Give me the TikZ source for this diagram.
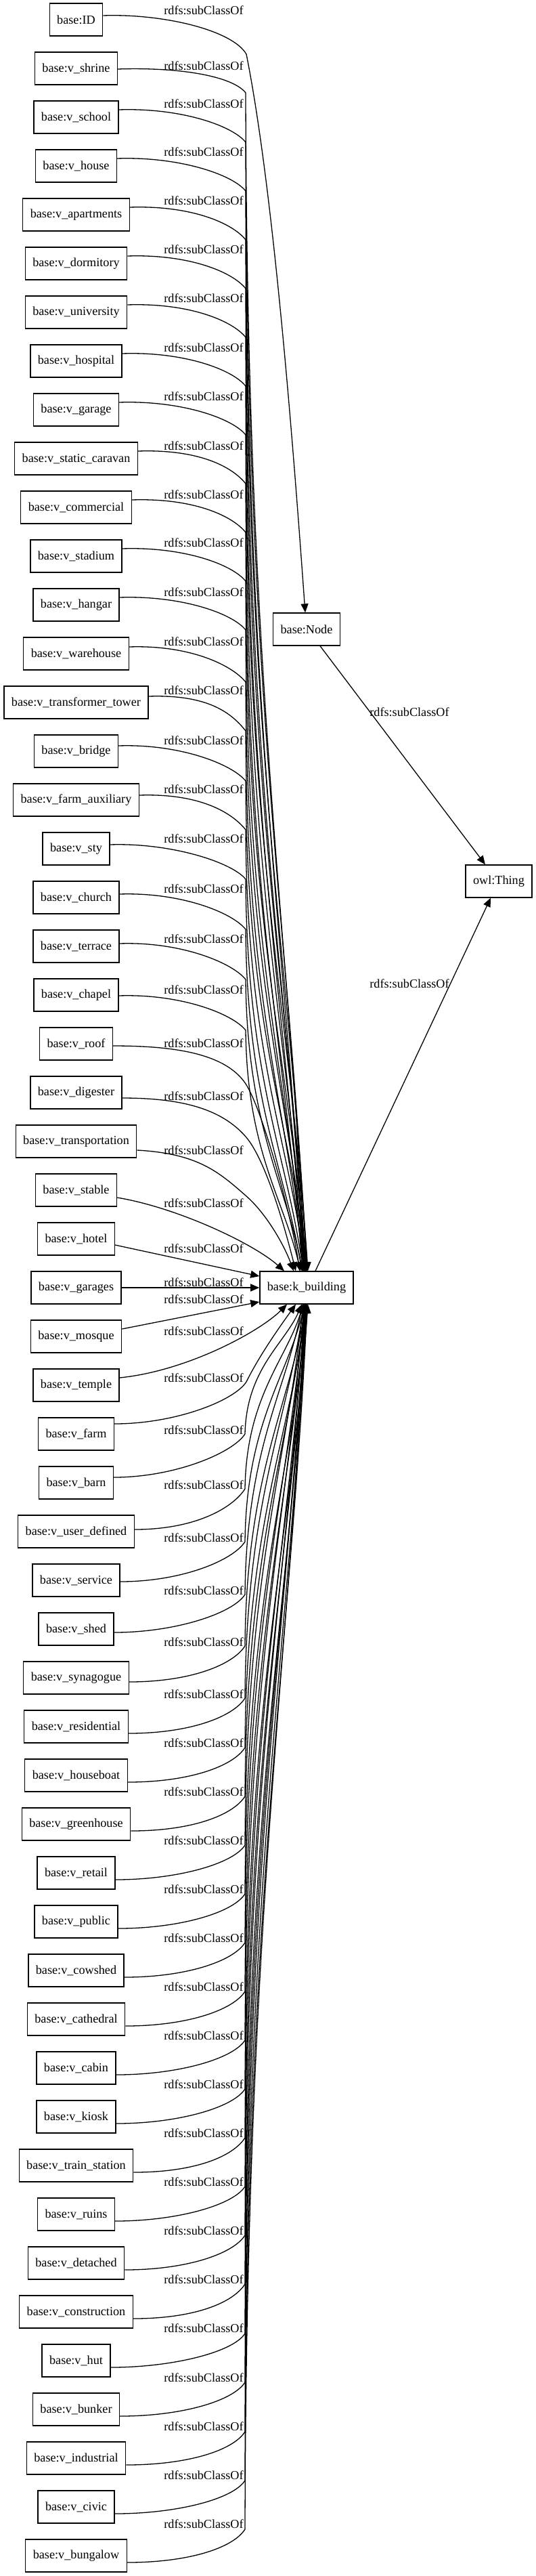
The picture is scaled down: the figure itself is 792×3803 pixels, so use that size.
\documentclass[tikz,border=0pt]{standalone}
\usepackage{fontspec}
\setmainfont{Liberation Serif}
\usetikzlibrary{arrows.meta,calc}
\newcommand{\gvf}{\fontsize{18.2pt}{21pt}\selectfont}
\begin{document}
\begin{tikzpicture}[x=1pt,y=-1pt,
  gvbox/.style={draw,line width=1.3pt,rectangle,minimum width=72pt,minimum height=48pt,inner xsep=11pt,inner ysep=0pt,font=\gvf},
  gvlab/.style={font=\gvf,inner sep=0pt},
  gvedge/.style={line width=1.3pt,-{Triangle[length=13pt,width=11pt]}}]
\fill[white] (0,0) rectangle (792,3803);
\useasboundingbox (0,0) rectangle (792,3803);
% left column
\foreach \i/\nm in {0/ID,1/v\_shrine,2/v\_school,3/v\_house,4/v\_apartments,5/v\_dormitory,6/v\_university,7/v\_hospital,8/v\_garage,9/v\_static\_caravan,10/v\_commercial,11/v\_stadium,12/v\_hangar,13/v\_warehouse,14/v\_transformer\_tower,15/v\_bridge,16/v\_farm\_auxiliary,17/v\_sty,18/v\_church,19/v\_terrace,20/v\_chapel,21/v\_roof,22/v\_digester,23/v\_transportation,24/v\_stable,25/v\_hotel,26/v\_garages,27/v\_mosque,28/v\_temple,29/v\_farm,30/v\_barn,31/v\_user\_defined,32/v\_service,33/v\_shed,34/v\_synagogue,35/v\_residential,36/v\_houseboat,37/v\_greenhouse,38/v\_retail,39/v\_public,40/v\_cowshed,41/v\_cathedral,42/v\_cabin,43/v\_kiosk,44/v\_train\_station,45/v\_ruins,46/v\_detached,47/v\_construction,48/v\_hut,49/v\_bunker,50/v\_industrial,51/v\_civic,52/v\_bungalow}
  {\node[gvbox] (n\i) at (112.5,{29+72*\i}) {base:\nm};}
% right nodes
\node[gvbox] (k) at (453,1901) {base:k\_building};
\node[gvbox] (nd) at (453,929) {base:Node};
\node[gvbox] (th) at (737,1301) {owl:Thing};
% labels
\foreach \i/\ly in {0/15,1/97,2/153,3/224,4/296,5/368,6/440,7/513,8/585,9/658,10/730,11/801,12/874,13/947,14/1019,15/1093,16/1165,17/1238,18/1312,19/1386,20/1461,21/1540,22/1618,23/1698,24/1776,25/1843,26/1893,27/1918,28/1965,29/2034,30/2111,31/2192,32/2270,33/2348,34/2424,35/2501,36/2573,37/2645,38/2717,39/2789,40/2861,41/2933,42/3005,43/3077,44/3149,45/3221,46/3293,47/3365,48/3437,49/3510,50/3582,51/3654,52/3726}
  {\node[gvlab] (l\i) at (301,\ly) {rdfs:subClassOf};}
\node[gvlab] (lnd) at (605,1051) {rdfs:subClassOf};
\node[gvlab] (lk) at (605,1452) {rdfs:subClassOf};
% ID -> Node
\draw[gvedge] ($(n0.east)+(0,-6)$) .. controls +(90,-3) and +(-20,-35) .. (364,80)
  .. controls +(40,200) and +(-18,-250) .. ($(nd.north)+(-2,0)$);
% upper rows -> k_building
\foreach \i/\e/\ky/\dx in {1/1/137/-2,2/-11/210/0,3/-11/282/-4,4/-11/354/1,5/-11/426/-3,6/-11/498/-1,7/-11/570/-5,8/-11/642/2,9/-11/714/-2,10/-11/786/-6,11/-11/858/0,12/-11/930/-3,13/-10/1007/-1,14/-9/1079/-4,15/-8/1153/1,16/-7/1225/-2,17/-6/1298/-5,18/-5/1372/-7,19/-4/1446/-6,20/1/1521/-9}
  {\draw[gvedge] ($(n\i.east)+(0,\e)$) .. controls +(90,-3) and +(-20,-25) .. (363,\ky)
     .. controls +(2,{0.5*(1877-\ky)}) and +(-25,{-0.3*(1877-\ky)}) .. ($(k.north)+(\dx,0)$);}
\draw[gvedge] ($(n21.east)+(0,3)$) .. controls +(90,0) and +(-30,-45) .. (363,1600)
  .. controls +(25,38) and +(-12,-80) .. ($(k.north)+(-10,0)$);
\draw[gvedge] ($(n22.east)+(0,8)$) .. controls +(90,0) and +(-35,-40) .. (363,1678)
  .. controls +(30,34) and +(-15,-60) .. ($(k.north)+(-16,0)$);
\draw[gvedge] ($(n23.east)+(0,13)$) .. controls +(90,5) and +(-40,-35) .. (363,1765)
  .. controls +(30,26) and +(-15,-40) .. ($(k.north)+(-19,0)$);
\draw[gvedge] ($(n24.east)+(0,11)$) .. controls +(90,15) and +(-45,-40) .. ($(k.north)+(-33,0)$);
\draw[gvedge] ($(n25.east)+(0,9)$) -- ($(k.west)+(0,-17)$);
\draw[gvedge] (n26.east) -- (k.west);
\draw[gvedge] ($(n27.east)+(0,-11)$) -- ($(k.west)+(0,21)$);
\draw[gvedge] ($(n28.east)+(0,-11)$) .. controls +(100,-10) and +(-40,40) .. ($(k.south)+(-29,0)$);
\draw[gvedge] ($(n29.east)+(0,-15)$) .. controls +(90,0) and +(-18,28) .. (364,2040)
  .. controls +(20,-40) and +(-25,35) .. ($(k.south)+(-16,0)$);
% lower rows -> k_building
\foreach \i/\e/\ky/\dx in {30/-8/2117/-7,31/-3/2198/-5,32/2/2276/-3,33/5/2354/-6,34/6/2430/-1,35/10/2507/-4,36/10/2580/0,37/10/2652/-2,38/10/2724/-5,39/10/2796/1,40/10/2868/-3,41/10/2940/-1,42/10/3012/-4,43/10/3084/2,44/10/3156/-2,45/10/3228/0,46/10/3300/-3,47/10/3372/1,48/10/3445/-1,49/10/3517/-2,50/10/3590/0,51/10/3662/1,52/10/3734/-1}
  {\draw[gvedge] ($(n\i.east)+(0,\e)$) .. controls +(90,0) and +(-18,28) .. (362,\ky)
     .. controls +(2,{-0.5*(\ky-1925)}) and +(-25,{0.3*(\ky-1925)}) .. ($(k.south)+(\dx,0)$);}
% right edges
\draw[gvedge] ($(nd.south)+(20,0)$) -- ($(th.north)+(-20,0)$);
\draw[gvedge] ($(k.north)+(13,0)$) -- ($(th.south)+(-12,0)$);
\end{tikzpicture}
\end{document}
